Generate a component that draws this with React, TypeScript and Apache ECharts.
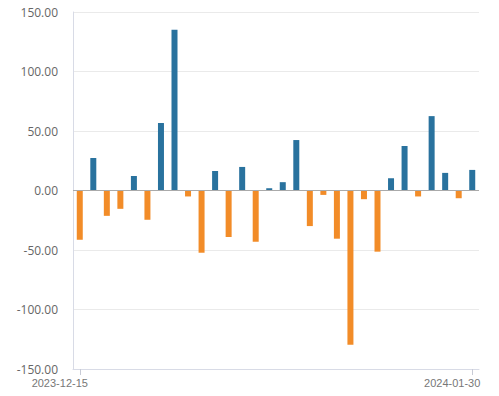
import React, { useEffect, useRef } from "react";
import * as echarts from "echarts";

const dates = [
  "2023-12-15", "2023-12-18", "2023-12-19", "2023-12-20", "2023-12-21", "2023-12-22",
  "2023-12-27", "2023-12-28", "2023-12-29", "2024-01-02", "2024-01-03", "2024-01-04",
  "2024-01-05", "2024-01-08", "2024-01-09", "2024-01-10", "2024-01-11", "2024-01-12",
  "2024-01-15", "2024-01-16", "2024-01-17", "2024-01-18", "2024-01-19", "2024-01-22",
  "2024-01-23", "2024-01-24", "2024-01-25", "2024-01-26", "2024-01-29", "2024-01-30",
];

const values = [
  -41.4, 27.3, -21.3, -15.4, 12.2, -24.6, 56.7, 135.0, -5.0, -52.3,
  16.4, -39.1, 19.8, -43.1, 1.9, 7.0, 42.4, -29.9, -3.7, -40.5,
  -129.7, -7.3, -51.4, 10.3, 37.4, -5.0, 62.5, 14.8, -6.5, 17.3,
];

const yMin = -150;
const yMax = 150;
const yStep = 50;

const POS = "#29729e";
const NEG = "#f28c28";

export default function App() {
  const ref = useRef<HTMLDivElement>(null);
  useEffect(() => {
    if (!ref.current) return;
    const chart = echarts.init(ref.current, null, { renderer: "svg" });
    const last = dates.length - 1;
    const showEnds = (i: number) => i === 0 || i === last;
    chart.setOption({
      animation: false,
      grid: { left: 73, right: 20, top: 12, bottom: 27 },
      xAxis: {
        type: "category",
        data: dates,
        boundaryGap: true,
        axisLine: { onZero: false, lineStyle: { color: "#d8dbe6" } },
        axisTick: {
          show: true,
          alignWithLabel: true,
          interval: showEnds,
          length: 6,
          lineStyle: { color: "#c8cbd6" },
        },
        axisLabel: {
          interval: showEnds,
          color: "#777",
          fontSize: 11,
          fontFamily: "Liberation Sans",
          margin: 8,
          padding: [0, 40, 0, 0],
        },
        splitLine: { show: false },
      },
      yAxis: {
        type: "value",
        min: yMin,
        max: yMax,
        interval: yStep,
        axisLine: { show: true, lineStyle: { color: "#d8dbe6" } },
        axisTick: { show: false },
        axisLabel: {
          color: "#666",
          fontSize: 12,
          fontFamily: "Open Sans",
          margin: 15,
          formatter: (v: number) => v.toFixed(2),
        },
        splitLine: { lineStyle: { color: "#eaeaea" } },
      },
      series: [
        {
          type: "bar",
          data: values,
          barWidth: 6,
          itemStyle: {
            color: (p: any) => (p.value >= 0 ? POS : NEG),
          },
          markLine: {
            silent: true,
            symbol: "none",
            label: { show: false },
            lineStyle: { color: "#aaaaaa", type: "solid", width: 1 },
            data: [{ yAxis: 0 }],
          },
        },
      ],
    });
    return () => chart.dispose();
  }, []);
  return (
    <div
      ref={ref}
      style={{ position: "absolute", left: 0, top: 0, width: 499, height: 396 }}
    />
  );
}
